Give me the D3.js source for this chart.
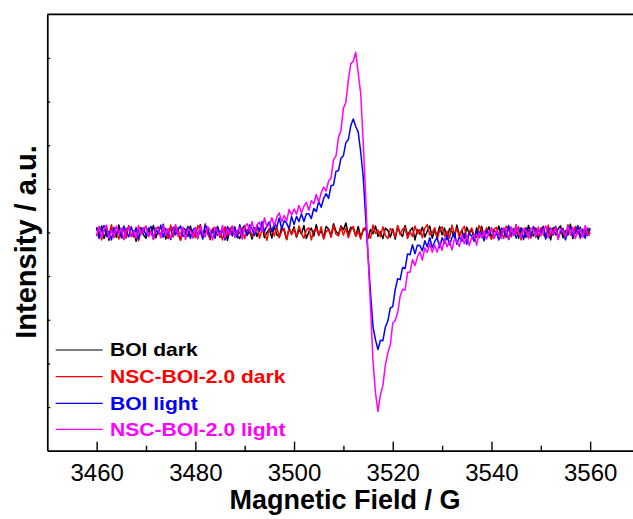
<!DOCTYPE html>
<html>
<head>
<meta charset="utf-8">
<script src="https://cdn.jsdelivr.net/npm/d3@7"></script>
<style>
  html, body { margin: 0; padding: 0; background: #fff; }
  svg { display: block; font-family: Arial, "Liberation Sans", sans-serif; }
</style>
</head>
<body>
<svg id="chart" width="633" height="519"></svg>
<script>
// EPR spectra, magnetic field sampled from 3460 G in 0.5 G steps (intensity in a.u. x100)
const fieldStart = 3460;
const fieldStep = 0.5;

const boiDark = [
  12, -8, 15, -14, 6, -18, 9, 3, -11, 17, -5, -16, 8, 13, -9, 4, -20, 7, 11, -6,
  -13, 10, -3, 16, -12, 5, -7, 19, -15, 2, 9, -10, 14, -4, -17, 11, 6, -9, 15, -12,
  4, -14, 18, -7, 1, 12, -16, 8, -3, 14, -11, 5, 10, -18, 7, -2, 13, -8, -14, 9,
  16, -6, 3, -15, 11, -9, 6, 17, -12, 0, 8, -13, 15, -5, -10, 12, 4, -16, 9, -3,
  13, -11, 7, -4, 16, -14, 2, 10, -8, 18, -6, 5, -12, 14, 8, -7, 20, 3, -5, 15,
  6, 22, -4, 12, 9, -8, 14, -10, 4, 11, -13, 7, -3, 15, -9, 2, -14, 10, 5, -11,
  8, -15, 13, -2, -9, 16, -6, 4, 11, -17, 7, -4, 12, -10, 3, 15, -13, 6, -8, 14,
  -5, 10, -16, 9, 2, -11, 17, -7, 5, -14, 12, -3, 8, -18, 11, -6, 14, -9, 1, 13,
  -12, 6, -4, 15, -10, 8, 3, -16, 12, -7, 18, -13, 5, 9, -11, 16, -2, -8, 10, -15,
  7, 14, -9, 3, -17, 11, -5, 8, 15, -12, 4, -6, 19, -14, 9, -3, 12, -10, 6, -7,
  10
];

const nscDark = [
  -9, 14, -17, 5, 11, -6, 18, -12, 3, -15, 9, 7, -13, 16, -4, -10, 12, -19, 8, 2,
  15, -7, 4, -16, 10, 13, -11, 6, -3, -14, 17, -8, 1, 11, -18, 7, -5, 14, -9, 3,
  -12, 16, 5, -10, 20, -4, -15, 9, 12, -7, 2, -17, 13, -6, 8, 15, -11, 4, -2, 10,
  -14, 6, 11, -9, -3, 16, -13, 7, 1, -18, 10, 5, -8, 14, -12, 3, 9, -16, 12, -5,
  8, -10, 15, -3, -13, 6, 11, -17, 4, 9, -7, 13, -15, 2, 7, -11, 16, -4, -8, 12,
  -6, 10, -12, 5, 14, -9, 3, -15, 8, 11, -4, -13, 17, -2, 6, -10, 13, -7, -14, 9,
  4, -11, 16, -5, 8, 12, -14, 2, -9, 15, -3, 7, -12, 10, 18, -6, -1, 11, -16, 5,
  13, -8, 3, -13, 17, -4, 9, -11, 6, 14, -15, 1, 10, -7, -12, 16, 4, -9, 11, -3,
  -16, 8, 12, -6, 2, -14, 15, 5, -10, 9, -2, 13, -17, 7, 11, -5, -13, 14, 3, -8,
  10, -4, -12, 17, -7, 6, 13, -15, 2, 9, -11, 18, -3, -9, 14, 4, -14, 8, -6, 11,
  -4
];

const boiLight = [
  10, -14, 7, 16, -9, 3, -17, 12, -4, 8, -12, 15, 2, -10, 13, -6, 9, -15, 5, 11,
  -8, 4, 14, -13, 6, -3, 17, -11, 9, 1, -16, 12, -5, 7, 15, -9, -2, 13, -14, 6,
  11, -7, 3, -15, 16, 8, -10, 5, -13, 12, -1, 9, -17, 14, 4, -8, 10, -12, 18, -5,
  10, -7, 18, 8, -7, 17, 3, 25, 2, 16, 24, 1, 21, 13, 33, 8, 27, 21, 9, 37,
  18, 37, 25, 43, 25, 43, 43, 32, 55, 48, 71, 58, 78, 89, 78, 107, 109, 140, 142, 170,
  176, 206, 213, 245, 260, 243, 230, 185, 130, 36, -54, -140, -216, -246, -268, -247, -248, -217, -203, -173,
  -170, -131, -106, -108, -80, -83, -49, -51, -28, -49, -29, -30, -42, -19, -33, -12, -35, -21, -11, -35,
  -12, -25, -6, -28, -12, 0, -27, -10, -20, -2, -27, -2, -8, -20, 5, -12, 0, -19, 5, -7,
  11, -13, 0, -17, 10, 4, -11, 16, -5, 8, -13, 1, 11, -16, 9, 4, -8, 13, -11, 6,
  -3, 12, -15, 7, 10, -6, 14, -12, 2, 9, -17, 5, 13, -8, -1, 16, -10, 6, -13, 8,
  3
];

const nscLight = [
  -6, 13, -11, 8, 17, -14, 4, -9, 15, -3, 10, -16, 6, 12, -8, 3, -13, 16, -5, 9,
  14, -10, 2, -15, 11, 7, -12, 16, -6, 9, -13, 4, 18, -9, -2, 12, -16, 8, 5, -11,
  9, -13, 15, -4, -10, 13, 6, -17, 11, 2, -8, 16, -12, 7, -5, 14, -9, 3, 12, -15,
  13, 20, 2, 25, 0, 17, 24, 2, 34, 13, 18, 34, 15, 35, 45, 25, 39, 26, 53, 40,
  54, 42, 62, 45, 60, 69, 51, 73, 66, 87, 69, 91, 104, 95, 118, 125, 167, 175, 218, 233,
  285, 298, 350, 387, 392, 413, 366, 319, 210, 87, -56, -169, -295, -367, -410, -372, -351, -304, -276, -258,
  -208, -201, -184, -146, -130, -132, -91, -91, -62, -76, -56, -44, -63, -35, -46, -26, -45, -29, -45, -23,
  -41, -13, -33, -20, -40, -15, -21, -32, -6, -26, -6, -30, -12, -5, -29, -1, -12, 4, -15, 0,
  9, -14, 5, -6, -14, 11, 5, -15, 12, -7, 17, -3, -11, 9, 2, -14, 10, 6, -9, 13,
  -8, 5, 15, -12, 7, -3, 11, -16, 9, 4, -10, 14, -6, 12, -14, 3, 8, -11, 16, -5,
  -7
];

const seriesNames = ["BOI dark", "NSC-BOI-2.0 dark", "BOI light", "NSC-BOI-2.0 light"];
const seriesColors = ["#000000", "#ff0000", "#0000ff", "#ff00ff"];
const seriesValues = [boiDark, nscDark, boiLight, nscLight];

const xMajorTicks = [3460, 3480, 3500, 3520, 3540, 3560];
const xMinorTicks = [3470, 3490, 3510, 3530, 3550, 3570];
const yTicks = [-400, -300, -200, -100, 0, 100, 200, 300, 400];

const svg = d3.select("#chart");

const x = d3.scaleLinear().domain([3450, 3570]).range([47.3, 639.5]);
const y = d3.scaleLinear().domain([-500, 500]).range([450.7, 14.3]);

// spectra
const line = d3.line()
  .x((d, i) => x(fieldStart + i * fieldStep))
  .y(d => y(d));

const plot = svg.append("g");
seriesValues.forEach((vals, k) => {
  plot.append("path")
    .datum(vals)
    .attr("d", line)
    .attr("fill", "none")
    .attr("stroke", seriesColors[k])
    .attr("stroke-width", 1.5)
    .attr("stroke-linejoin", "round");
});

// frame: top line; the right side runs past the canvas edge
const axisStroke = 1.7;
svg.append("line")
  .attr("x1", x(3450)).attr("x2", x(3570))
  .attr("y1", y(500)).attr("y2", y(500))
  .attr("stroke", "#000").attr("stroke-width", axisStroke);

// bottom axis: major ticks with labels, pointing inward
const xAxis = d3.axisBottom(x)
  .tickValues(xMajorTicks)
  .tickSizeInner(-9)
  .tickSizeOuter(0)
  .tickPadding(13)
  .tickFormat(d3.format("d"));
const gx = svg.append("g")
  .attr("transform", `translate(0,${y(-500)})`)
  .call(xAxis);
gx.select(".domain").attr("stroke-width", axisStroke);
gx.selectAll(".tick line").attr("stroke-width", 1.4);
gx.selectAll(".tick text")
  .attr("font-size", 24)
  .attr("font-family", "Arial, 'Liberation Sans', sans-serif")
  .attr("fill", "#000");

const xMinor = d3.axisBottom(x)
  .tickValues(xMinorTicks)
  .tickSizeInner(-5)
  .tickSizeOuter(0)
  .tickFormat("");
const gxm = svg.append("g")
  .attr("transform", `translate(0,${y(-500)})`)
  .call(xMinor);
gxm.select(".domain").remove();
gxm.selectAll(".tick line").attr("stroke-width", 1.4);

// left axis: short inward ticks, no labels
const yAxis = d3.axisLeft(y)
  .tickValues(yTicks)
  .tickSizeInner(-3)
  .tickSizeOuter(0)
  .tickFormat("");
const gy = svg.append("g")
  .attr("transform", `translate(${x(3450)},0)`)
  .call(yAxis);
gy.select(".domain").attr("stroke-width", axisStroke);
gy.selectAll(".tick line").attr("stroke-width", 1.2);

// axis titles
svg.append("text")
  .attr("x", 345).attr("y", 509)
  .attr("text-anchor", "middle")
  .attr("font-size", 27)
  .attr("font-weight", "bold")
  .text("Magnetic Field / G");

svg.append("text")
  .attr("transform", "translate(36,242) rotate(-90)")
  .attr("text-anchor", "middle")
  .attr("font-size", 29)
  .attr("font-weight", "bold")
  .text("Intensity / a.u.");

// legend
const legendY = [350, 376.7, 403.3, 429.3];
const legend = svg.append("g");
seriesNames.forEach((name, k) => {
  legend.append("line")
    .attr("x1", 55.7).attr("x2", 102.7)
    .attr("y1", legendY[k]).attr("y2", legendY[k])
    .attr("stroke", seriesColors[k])
    .attr("stroke-width", 1.2);
  legend.append("text")
    .attr("transform", `translate(110,${legendY[k] + 6.4}) scale(1.17,1)`)
    .attr("font-size", 18)
    .attr("font-weight", "bold")
    .attr("fill", seriesColors[k])
    .text(name);
});
</script>
</body>
</html>
